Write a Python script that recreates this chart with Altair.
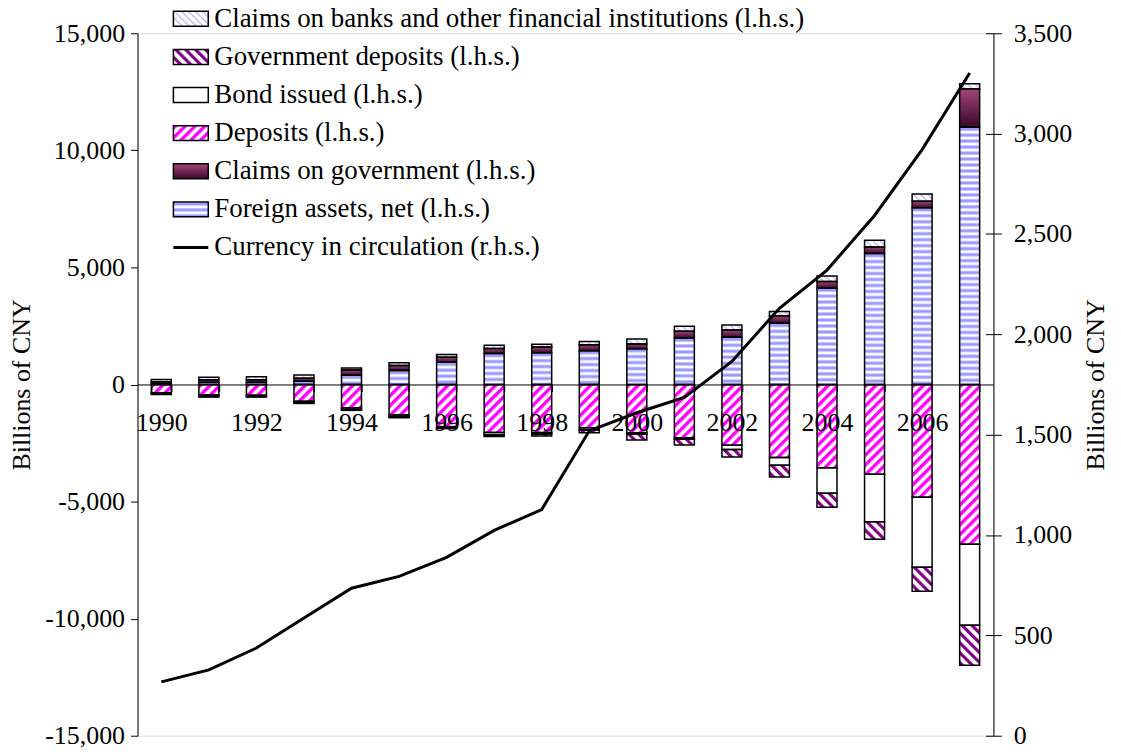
import base64
import altair as alt
import pandas as pd

# ---------------- data (billions of CNY) ----------------
years = list(range(1990, 2008))
foreign_assets = [35, 90, 90, 140, 395, 595, 950, 1320, 1360, 1445, 1530, 1985, 2015, 2610, 4115, 5590, 7545, 10990]
claims_on_government = [80, 110, 110, 130, 225, 215, 215, 215, 240, 255, 200, 285, 315, 325, 280, 285, 285, 1635]
claims_on_banks = [100, 110, 125, 130, 85, 115, 115, 140, 115, 140, 215, 215, 215, 185, 240, 285, 310, 215]
deposits = [355, 450, 460, 720, 995, 1305, 1800, 2055, 2055, 1845, 2060, 2270, 2595, 3120, 3560, 3830, 4820, 6820]
bond_issued = [30, 40, 40, 40, 70, 70, 45, 100, 60, 100, 70, 70, 185, 330, 1090, 2030, 2990, 3460]
government_deposits = [40, 50, 40, 50, 40, 45, 40, 70, 80, 115, 240, 240, 315, 500, 595, 750, 1020, 1715]
currency_in_circulation = [268, 328, 437, 586, 735, 794, 889, 1023, 1127, 1519, 1609, 1686, 1865, 2130, 2320, 2592, 2920, 3302]

CB = "Claims on banks and other financial institutions (l.h.s.)"
GD = "Government deposits (l.h.s.)"
BI = "Bond issued (l.h.s.)"
DE = "Deposits (l.h.s.)"
CG = "Claims on government (l.h.s.)"
FA = "Foreign assets, net (l.h.s.)"
CU = "Currency in circulation (r.h.s.)"
legend_order = [CB, GD, BI, DE, CG, FA, CU]

positive_stack = [(FA, foreign_assets), (CG, claims_on_government), (CB, claims_on_banks)]
negative_stack = [(DE, deposits), (BI, bond_issued), (GD, government_deposits)]

# ---------------- styles: pattern fills as small SVG images ----------------
def svg_uri(body):
    svg = ("<svg xmlns='http://www.w3.org/2000/svg' width='100%' height='100%'>"
           + body + "</svg>")
    return "data:image/svg+xml;base64," + base64.b64encode(svg.encode()).decode()

def stripes(color, period, band, angle, bg="#ffffff"):
    return svg_uri(
        f"<defs><pattern id='p' patternUnits='userSpaceOnUse' width='{period}' height='{period}' "
        f"patternTransform='rotate({angle})'>"
        f"<rect width='{period}' height='{period}' fill='{bg}'/>"
        f"<rect width='{band}' height='{period}' fill='{color}'/></pattern></defs>"
        "<rect width='100%' height='100%' fill='url(#p)'/>")

pattern_uri = {
    FA: svg_uri(
        "<defs><pattern id='p' patternUnits='userSpaceOnUse' width='10' height='6'>"
        "<rect width='10' height='6' fill='#ffffff'/>"
        "<rect y='0' width='10' height='1' fill='#c6c6ff'/>"
        "<rect y='1' width='10' height='2' fill='#9999ff'/>"
        "<rect y='3' width='10' height='1' fill='#c6c6ff'/></pattern></defs>"
        "<rect width='100%' height='100%' fill='url(#p)'/>"),
    CG: svg_uri(
        "<defs><linearGradient id='g' x1='0' y1='0' x2='0' y2='1'>"
        "<stop offset='0' stop-color='#a2457a'/><stop offset='1' stop-color='#3a0828'/>"
        "</linearGradient></defs><rect width='100%' height='100%' fill='url(#g)'/>"),
    CB: stripes("#b8b8f2", 5, 1.3, -45),
    DE: stripes("#ff00ff", 7, 3.4, 45),
    BI: svg_uri("<rect width='100%' height='100%' fill='#ffffff'/>"),
    GD: stripes("#800080", 7, 3.2, -45),
}

# ---------------- tables built from the arrays ----------------
rows = []
for i, yr in enumerate(years):
    base = 0
    for name, vals in positive_stack:
        rows.append({"year": yr, "series": name, "y0": base, "y1": base + vals[i]})
        base += vals[i]
    base = 0
    for name, vals in negative_stack:
        rows.append({"year": yr, "series": name, "y0": base, "y1": base - vals[i]})
        base -= vals[i]
bars_df = pd.DataFrame(rows)
bars_df["url"] = bars_df["series"].map(pattern_uri)

line_df = pd.DataFrame({"year": years, "currency": currency_in_circulation})

legend_patch_df = pd.DataFrame({"name": legend_order[:-1]})
legend_patch_df["url"] = legend_patch_df["name"].map(pattern_uri)
legend_line_df = pd.DataFrame({"name": [CU]})
legend_text_df = pd.DataFrame({"name": legend_order})

FONT = "Liberation Serif"
FS = 26
LEG_FS = 27

x_enc = alt.X(
    "year:O",
    scale=alt.Scale(paddingInner=0.58, paddingOuter=0.29),
    axis=alt.Axis(
        orient="bottom", offset=-352.5, tickBand="extent", tickSize=7,
        labelExpr="datum.value % 2 == 0 ? datum.label : ''", labelAngle=0,
        labelPadding=18, labelFontSize=FS, labelFont=FONT, labelColor="black",
        domainColor="black", tickColor="black", title=None, grid=False,
        labelOverlap=False, zindex=1,
    ),
)

y_left = alt.Y(
    "y0:Q",
    scale=alt.Scale(domain=[-15000, 15000], nice=False, zero=False),
    axis=alt.Axis(
        orient="left", values=list(range(-15000, 15001, 5000)), tickSize=7,
        labelExpr="(datum.value < 0 ? '-' : '') + format(abs(datum.value), ',')",
        labelPadding=6, labelFontSize=FS, labelFont=FONT, labelColor="black",
        domainColor="black", tickColor="black", grid=False,
        title="Billions of CNY", titleFont=FONT, titleFontSize=FS,
        titleFontWeight="normal", titleColor="black", titlePadding=10,
    ),
)

images = alt.Chart(bars_df).mark_image(aspect=False).encode(
    x=x_enc, y=y_left, y2="y1:Q", url="url:N"
)
outlines = alt.Chart(bars_df).mark_bar(
    filled=False, stroke="black", strokeWidth=1.5
).encode(x=x_enc, y=y_left, y2="y1:Q")

bars = alt.layer(images, outlines)

right_scale = alt.Scale(domain=[0, 3500], nice=False)
line = alt.Chart(line_df).mark_line(color="black", strokeWidth=3).encode(
    x=x_enc,
    y=alt.Y(
        "currency:Q", scale=right_scale,
        axis=alt.Axis(
            orient="right", offset=-8, tickSize=16, domain=False,
            values=list(range(0, 3501, 500)),
            labelExpr="format(datum.value, ',')",
            labelPadding=12, labelFontSize=FS, labelFont=FONT, labelColor="black",
            tickColor="black", grid=False,
            title="Billions of CNY", titleFont=FONT, titleFontSize=FS,
            titleFontWeight="normal", titleColor="black", titleAngle=270,
            titlePadding=37,
        ),
    ),
)

right_domain = alt.Chart(line_df).mark_line(opacity=0).encode(
    x=x_enc,
    y=alt.Y(
        "currency:Q", scale=right_scale,
        axis=alt.Axis(orient="right", offset=0, domain=True, domainColor="black",
                      ticks=False, labels=False, grid=False, title=None),
    ),
)

leg_scale = alt.Scale(type="point", domain=legend_order, range=[-14.5, 215], padding=0)
leg_y = alt.Y("name:N", scale=leg_scale, axis=None)

leg_img = alt.Chart(legend_patch_df).mark_image(aspect=False, height=15).encode(
    x=alt.value(36), x2=alt.value(71), y=leg_y, url="url:N"
)
leg_box = alt.Chart(legend_patch_df).mark_rect(
    fill="transparent", stroke="black", strokeWidth=1.5, height=15
).encode(x=alt.value(36), x2=alt.value(71), y=leg_y)
leg_rule = alt.Chart(legend_line_df).mark_rule(color="black", strokeWidth=3).encode(
    x=alt.value(36), x2=alt.value(71), y=leg_y
)
leg_text = alt.Chart(legend_text_df).mark_text(
    align="left", baseline="middle", font=FONT, fontSize=LEG_FS, color="black"
).encode(x=alt.value(77), y=leg_y, text="name:N")

legend = alt.layer(leg_img, leg_box, leg_rule, leg_text)

chart = (
    alt.layer(bars, line, right_domain, legend)
    .resolve_scale(y="independent")
    .properties(
        width=859, height=705,
        autosize=alt.AutoSizeParams(type="none"),
        padding={"left": 130, "top": 24, "right": 120, "bottom": 14},
        background="white",
    )
    .configure_view(stroke=None)
    .configure(font=FONT)
)

chart.save("out.html", embed_options={"renderer": "svg", "actions": False})
